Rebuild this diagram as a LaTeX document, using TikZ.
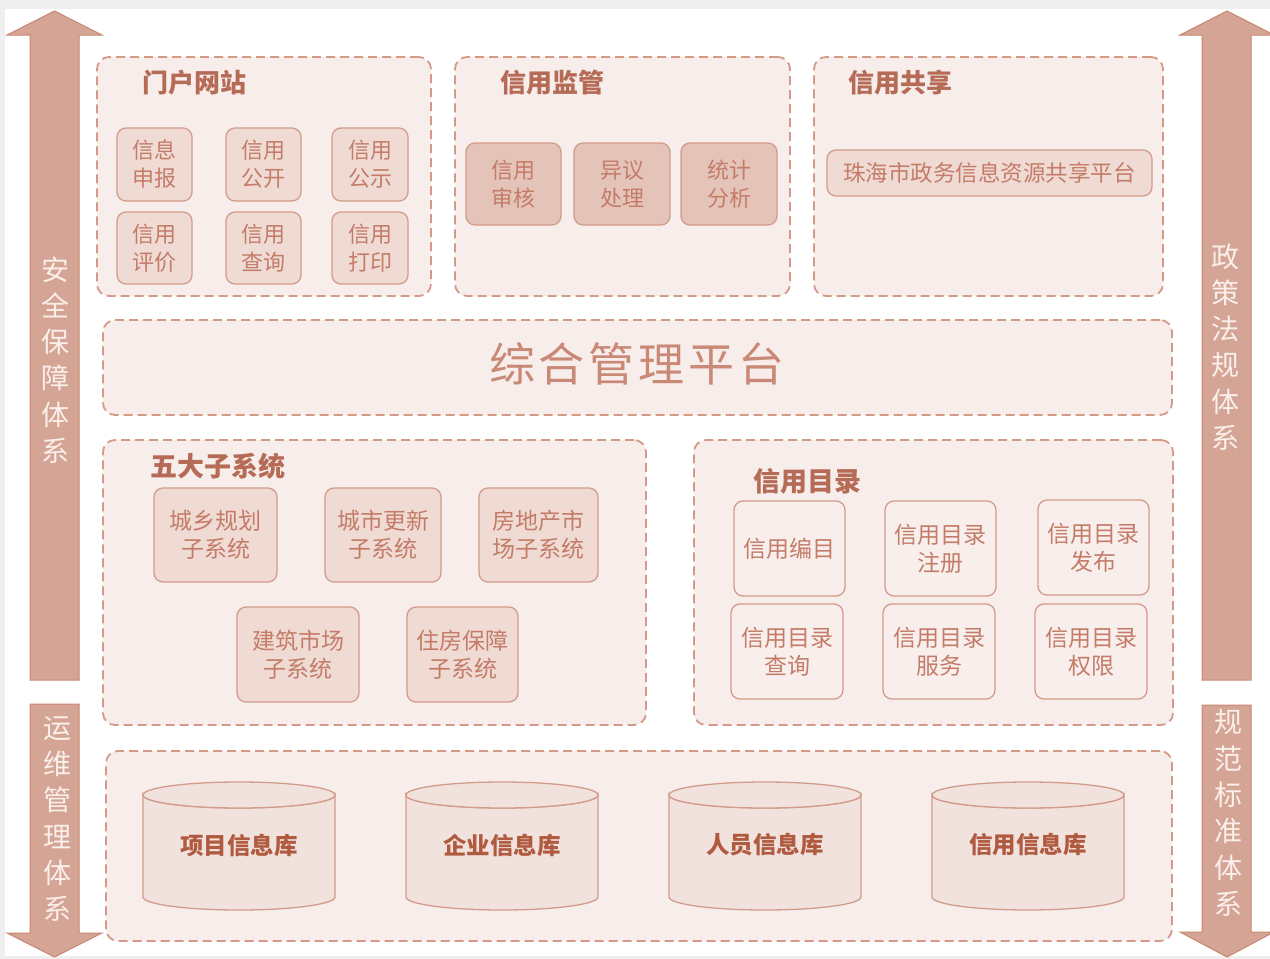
\documentclass[tikz,border=0pt]{standalone}
\usepackage{fontspec}
\newfontfamily\cjk{Noto Sans CJK SC}
\definecolor{arrowf}{HTML}{D4A595}
\definecolor{arrowd}{HTML}{C8866F}
\definecolor{arrowt}{HTML}{FBEFEB}
\definecolor{dashc}{HTML}{D49A87}
\definecolor{contf}{HTML}{F7EDEB}
\definecolor{boxd}{HTML}{D39C8A}
\definecolor{boxf}{HTML}{EFDAD4}
\definecolor{boxdark}{HTML}{E4C3B9}
\definecolor{boxlight}{HTML}{F8EFED}
\definecolor{cylf}{HTML}{F1E2DE}
\definecolor{txt}{HTML}{C47C68}
\definecolor{ttl}{HTML}{B56B56}
\definecolor{dbt}{HTML}{B05A40}
\definecolor{bggrey}{HTML}{EFEFEF}
\begin{document}
\begin{tikzpicture}[x=1pt,y=-1pt,
  container/.style={draw=dashc, fill=contf, line width=1.8pt, dash pattern=on 9pt off 5pt,
    rounded corners=12pt, inner sep=0pt},
  boxnode/.style={draw=boxd, fill=boxf, line width=1.3pt, rounded corners=9pt, align=center,
    font=\cjk\fontsize{22}{28}\selectfont, text=txt, inner sep=0pt},
  subbox/.style={boxnode, font=\cjk\fontsize{23}{28}\selectfont},
  darkbox/.style={boxnode, fill=boxdark},
  lightbox/.style={boxnode, fill=boxlight, font=\cjk\fontsize{23}{28}\selectfont},
  ttlnode/.style={anchor=west, inner sep=0pt, text=ttl, font=\cjk\bfseries\fontsize{26}{30}\selectfont},
  bigarrow/.style={fill=arrowf, draw=arrowd, line width=1pt},
  arrowtext/.style={align=center, text=arrowt, inner sep=0pt, font=\cjk\fontsize{28}{36.3}\selectfont},
  cyl/.style={draw=boxd, fill=cylf, line width=1.3pt},
  dbtext/.style={text=dbt, inner sep=0pt, font=\cjk\bfseries\fontsize{23.5}{26}\selectfont}
]
\clip (0,0) rectangle (1270,959);
\fill[bggrey] (0,0) rectangle (1270,959);
\fill[white] (5,9) rectangle (1270,956);

% side arrows
\draw[bigarrow] (30,680) -- (30,35) -- (7,35) -- (54.5,11) -- (102,35) -- (79,35) -- (79,680) -- cycle;
\draw[bigarrow] (30,704) -- (30,933) -- (7,933) -- (54.5,957) -- (102,933) -- (79,933) -- (79,704) -- cycle;
\draw[bigarrow] (1202,680) -- (1202,35) -- (1180,35) -- (1227,11) -- (1274,35) -- (1251,35) -- (1251,680) -- cycle;
\draw[bigarrow] (1202,705) -- (1202,932) -- (1180,932) -- (1227,957) -- (1274,932) -- (1251,932) -- (1251,705) -- cycle;
\node[arrowtext] (aq) at (55,360) {安\\全\\保\\障\\体\\系};
\node[arrowtext] (yw) at (57,819) {运\\维\\管\\理\\体\\系};
\node[arrowtext] (zc) at (1225,347) {政\\策\\法\\规\\体\\系};
\node[arrowtext] (gf) at (1228,813) {规\\范\\标\\准\\体\\系};

% containers
\node[container, minimum width=334, minimum height=239] (portal) at (264,176.5) {};
\node[container, minimum width=335, minimum height=239] (monitor) at (622.5,176.5) {};
\node[container, minimum width=349, minimum height=239] (share) at (988.5,176.5) {};
\node[container, minimum width=1069, minimum height=95] (mgmt) at (637.5,367.5) {};
\node[container, minimum width=543, minimum height=285] (five) at (374.5,582.5) {};
\node[container, minimum width=479, minimum height=285] (catalog) at (933.5,582.5) {};
\node[container, minimum width=1066, minimum height=190] (db) at (639,846) {};

% titles
\node[ttlnode] (tportal) at (142,83) {门户网站};
\node[ttlnode] (tmonitor) at (500,83) {信用监管};
\node[ttlnode] (tshare) at (848,83) {信用共享};
\node[ttlnode, font=\cjk\bfseries\fontsize{27}{30}\selectfont] (tfive) at (150,466) {五大子系统};
\node[ttlnode, font=\cjk\bfseries\fontsize{27}{30}\selectfont] (tcatalog) at (753,481) {信用目录};
\node[inner sep=0pt, text=txt!90!white, font=\cjk\fontsize{46}{50}\selectfont] (tmgmt) at (637,364)
  {综\hspace{4pt}合\hspace{4pt}管\hspace{4pt}理\hspace{4pt}平\hspace{4pt}台};

% portal boxes
\node[boxnode, minimum width=75, minimum height=73] (p1) at (154.5,164.5) {信息\\申报};
\node[boxnode, minimum width=75, minimum height=73] (p2) at (263.5,164.5) {信用\\公开};
\node[boxnode, minimum width=76, minimum height=73] (p3) at (370,164.5) {信用\\公示};
\node[boxnode, minimum width=75, minimum height=72] (p4) at (154.5,248) {信用\\评价};
\node[boxnode, minimum width=75, minimum height=72] (p5) at (263.5,248) {信用\\查询};
\node[boxnode, minimum width=76, minimum height=72] (p6) at (370,248) {信用\\打印};

% monitor boxes
\node[darkbox, minimum width=95, minimum height=82] (m1) at (513.5,184) {信用\\审核};
\node[darkbox, minimum width=96, minimum height=82] (m2) at (622,184) {异议\\处理};
\node[darkbox, minimum width=96, minimum height=82] (m3) at (729,184) {统计\\分析};

% share box
\node[boxnode, minimum width=325, minimum height=46, font=\cjk\fontsize{22.5}{26}\selectfont] (s1) at (989.5,173) {珠海市政务信息资源共享平台};

% subsystem boxes
\node[subbox, minimum width=123, minimum height=94] (f1) at (215.5,535) {城乡规划\\子系统};
\node[subbox, minimum width=116, minimum height=94] (f2) at (383,535) {城市更新\\子系统};
\node[subbox, minimum width=119, minimum height=94] (f3) at (538.5,535) {房地产市\\场子系统};
\node[subbox, minimum width=122, minimum height=95] (f4) at (298,654.5) {建筑市场\\子系统};
\node[subbox, minimum width=111, minimum height=95] (f5) at (462.5,654.5) {住房保障\\子系统};

% catalog boxes
\node[lightbox, minimum width=111, minimum height=95] (c1) at (789.5,548.5) {信用编目};
\node[lightbox, minimum width=111, minimum height=95] (c2) at (940.5,548.5) {信用目录\\注册};
\node[lightbox, minimum width=111, minimum height=95] (c3) at (1093.5,547.5) {信用目录\\发布};
\node[lightbox, minimum width=112, minimum height=95] (c4) at (787,651.5) {信用目录\\查询};
\node[lightbox, minimum width=112, minimum height=95] (c5) at (939,651.5) {信用目录\\服务};
\node[lightbox, minimum width=112, minimum height=95] (c6) at (1091,651.5) {信用目录\\权限};

% databases
\foreach \cx/\nm/\lbl in {239/d1/项目信息库, 502/d2/企业信息库, 765/d3/人员信息库, 1028/d4/信用信息库}{
  \draw[cyl] (\cx-96,795) -- (\cx-96,897) arc[start angle=180, end angle=0, x radius=96, y radius=13]
    -- (\cx+96,795) arc[start angle=0, end angle=180, x radius=96, y radius=13] -- cycle;
  \draw[cyl] (\cx,795) ellipse[x radius=96, y radius=13];
  \node[dbtext] (\nm) at (\cx,845) {\lbl};
}
\end{tikzpicture}
\end{document}
